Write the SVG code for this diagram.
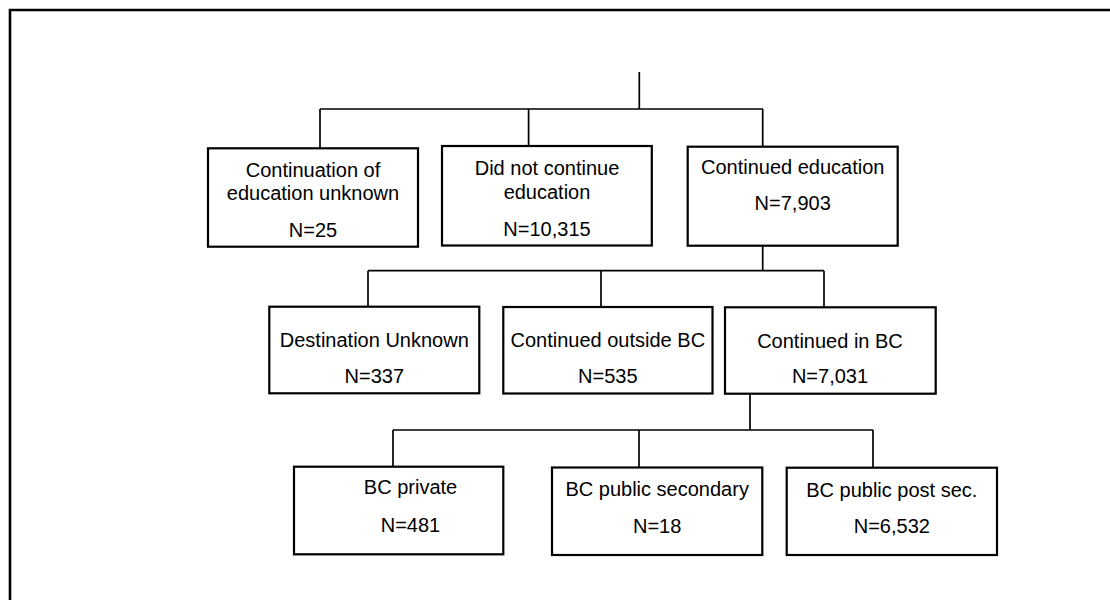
<svg xmlns="http://www.w3.org/2000/svg" width="1110" height="600" viewBox="0 0 1110 600">
<style>
.box{fill:#fff;stroke:#000;stroke-width:2.2}
.c{fill:none;stroke:#000;stroke-width:1.7}
text{font-family:"Liberation Sans",Arial,sans-serif;font-size:20px;fill:#000;text-anchor:middle}
</style>
<rect width="1110" height="600" fill="#fff"/>
<path d="M10,600 V10 H1110" fill="none" stroke="#000" stroke-width="2.6"/>
<g id="connectors">
<path class="c" d="M639.3,72 V109 M320,109 H763 M320,109 V148 M528.6,109 V146 M762.7,109 V146.7"/>
<path class="c" d="M762.7,245.7 V270.7 M368,270.7 H824 M368,270.7 V306.7 M601,270.7 V307 M824,270.7 V307.3"/>
<path class="c" d="M750,393.7 V430 M393,430 H873 M393,430 V466.7 M639,430 V467.5 M873,430 V467.7"/>
</g>
<g id="n1">
<rect class="box" x="208" y="148.3" width="210" height="98.4"/>
<text x="313" y="176.7">Continuation of</text>
<text x="313" y="200">education unknown</text>
<text x="313" y="236.7">N=25</text>
</g>
<g id="n2">
<rect class="box" x="442" y="146" width="209.8" height="99.5"/>
<text x="547" y="175">Did not continue</text>
<text x="547" y="199">education</text>
<text x="547" y="235.7">N=10,315</text>
</g>
<g id="n3">
<rect class="box" x="687.7" y="146.7" width="210" height="99"/>
<text x="792.7" y="174">Continued education</text>
<text x="792.7" y="210">N=7,903</text>
</g>
<g id="n4">
<rect class="box" x="269.3" y="306.7" width="210" height="86.6"/>
<text x="374.3" y="347.3">Destination Unknown</text>
<text x="374.3" y="383.3">N=337</text>
</g>
<g id="n5">
<rect class="box" x="503.3" y="307" width="209.2" height="86.5"/>
<text x="607.8" y="347.3">Continued outside BC</text>
<text x="607.8" y="383.3">N=535</text>
</g>
<g id="n6">
<rect class="box" x="725" y="307.3" width="210.7" height="86.4"/>
<text x="830" y="347.7">Continued in BC</text>
<text x="830" y="383.3">N=7,031</text>
</g>
<g id="n7">
<rect class="box" x="294" y="466.7" width="209.3" height="87.6"/>
<text x="410.5" y="494">BC private</text>
<text x="410.5" y="532.3">N=481</text>
</g>
<g id="n8">
<rect class="box" x="552" y="467.5" width="210.3" height="87.5"/>
<text x="657.2" y="495.5">BC public secondary</text>
<text x="657.2" y="533">N=18</text>
</g>
<g id="n9">
<rect class="box" x="786.7" y="467.7" width="210.3" height="87.3"/>
<text x="891.8" y="496.7">BC public post sec.</text>
<text x="891.8" y="533">N=6,532</text>
</g>
</svg>
